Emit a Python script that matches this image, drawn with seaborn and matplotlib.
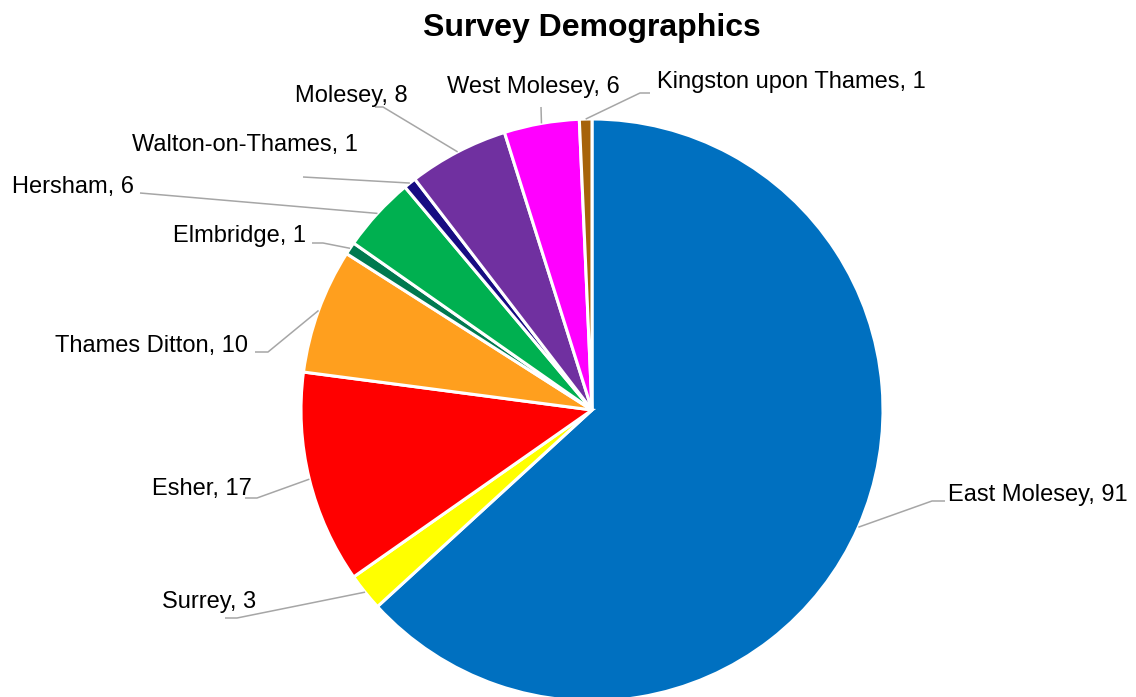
import matplotlib
matplotlib.use('Agg')
import matplotlib.pyplot as plt
import numpy as np
import seaborn as sns

areas = ['East Molesey', 'Surrey', 'Esher', 'Thames Ditton', 'Elmbridge',
         'Hersham', 'Walton-on-Thames', 'Molesey', 'West Molesey',
         'Kingston upon Thames']
counts = [91, 3, 17, 10, 1, 6, 1, 8, 6, 1]
colours = ['#0070C0', '#FFFF00', '#FF0000', '#FF9F1E', '#00794F',
           '#00B050', '#170C82', '#7030A0', '#FF00FF', '#A66309']

# label layout in pixel coords (y down): text left x, baseline y, elbow, end of leader
label_pos = [(948, 501), (162, 608), (152, 495), (55, 352), (173, 242),
             (12, 193), (132, 151), (295, 102), (447, 93), (657, 88)]
leader_pts = [((932, 501), (945, 501)), ((237, 618), (225, 618)),
              ((257, 498), (245, 498)), ((268, 352), (255, 352)),
              ((323, 243), (312, 243)), ((140, 193), (140, 193)),
              ((303, 177), (303, 177)), ((383, 107), (375, 107)),
              ((541, 107), (541, 107)), ((640, 93), (650, 93))]

W, H = 1136, 697
cx, cy, r = 592, 410, 291


def fy(y):
    return H - y


sns.set_theme(style='white')
plt.rcParams['font.family'] = ['Liberation Sans', 'DejaVu Sans']

fig = plt.figure(figsize=(W / 100, H / 100), dpi=100)
ax = fig.add_axes([0, 0, 1, 1])

wedges, _ = ax.pie(counts, colors=colours, startangle=90, counterclock=False,
                   center=(cx, fy(cy)), radius=r,
                   wedgeprops=dict(edgecolor='white', linewidth=2.2))

for w, name, n, (tx, ty), (elbow, end) in zip(wedges, areas, counts, label_pos, leader_pts):
    mid = np.deg2rad((w.theta1 + w.theta2) / 2)
    sx = cx + r * np.cos(mid)
    sy = fy(cy) + r * np.sin(mid)
    ax.plot([sx, elbow[0], end[0]], [sy, fy(elbow[1]), fy(end[1])],
            color='#A6A6A6', lw=1.1, solid_capstyle='butt')
    ax.text(tx, fy(ty), f'{name}, {n}', ha='left', va='baseline',
            fontsize=17, color='black')

ax.text(592, fy(36), 'Survey Demographics', ha='center', va='baseline',
        fontsize=23, fontweight='bold', color='black')

ax.set_xlim(0, W)
ax.set_ylim(0, H)
ax.set_aspect('equal')
ax.axis('off')

fig.savefig('out.png', dpi=100, facecolor='white')
